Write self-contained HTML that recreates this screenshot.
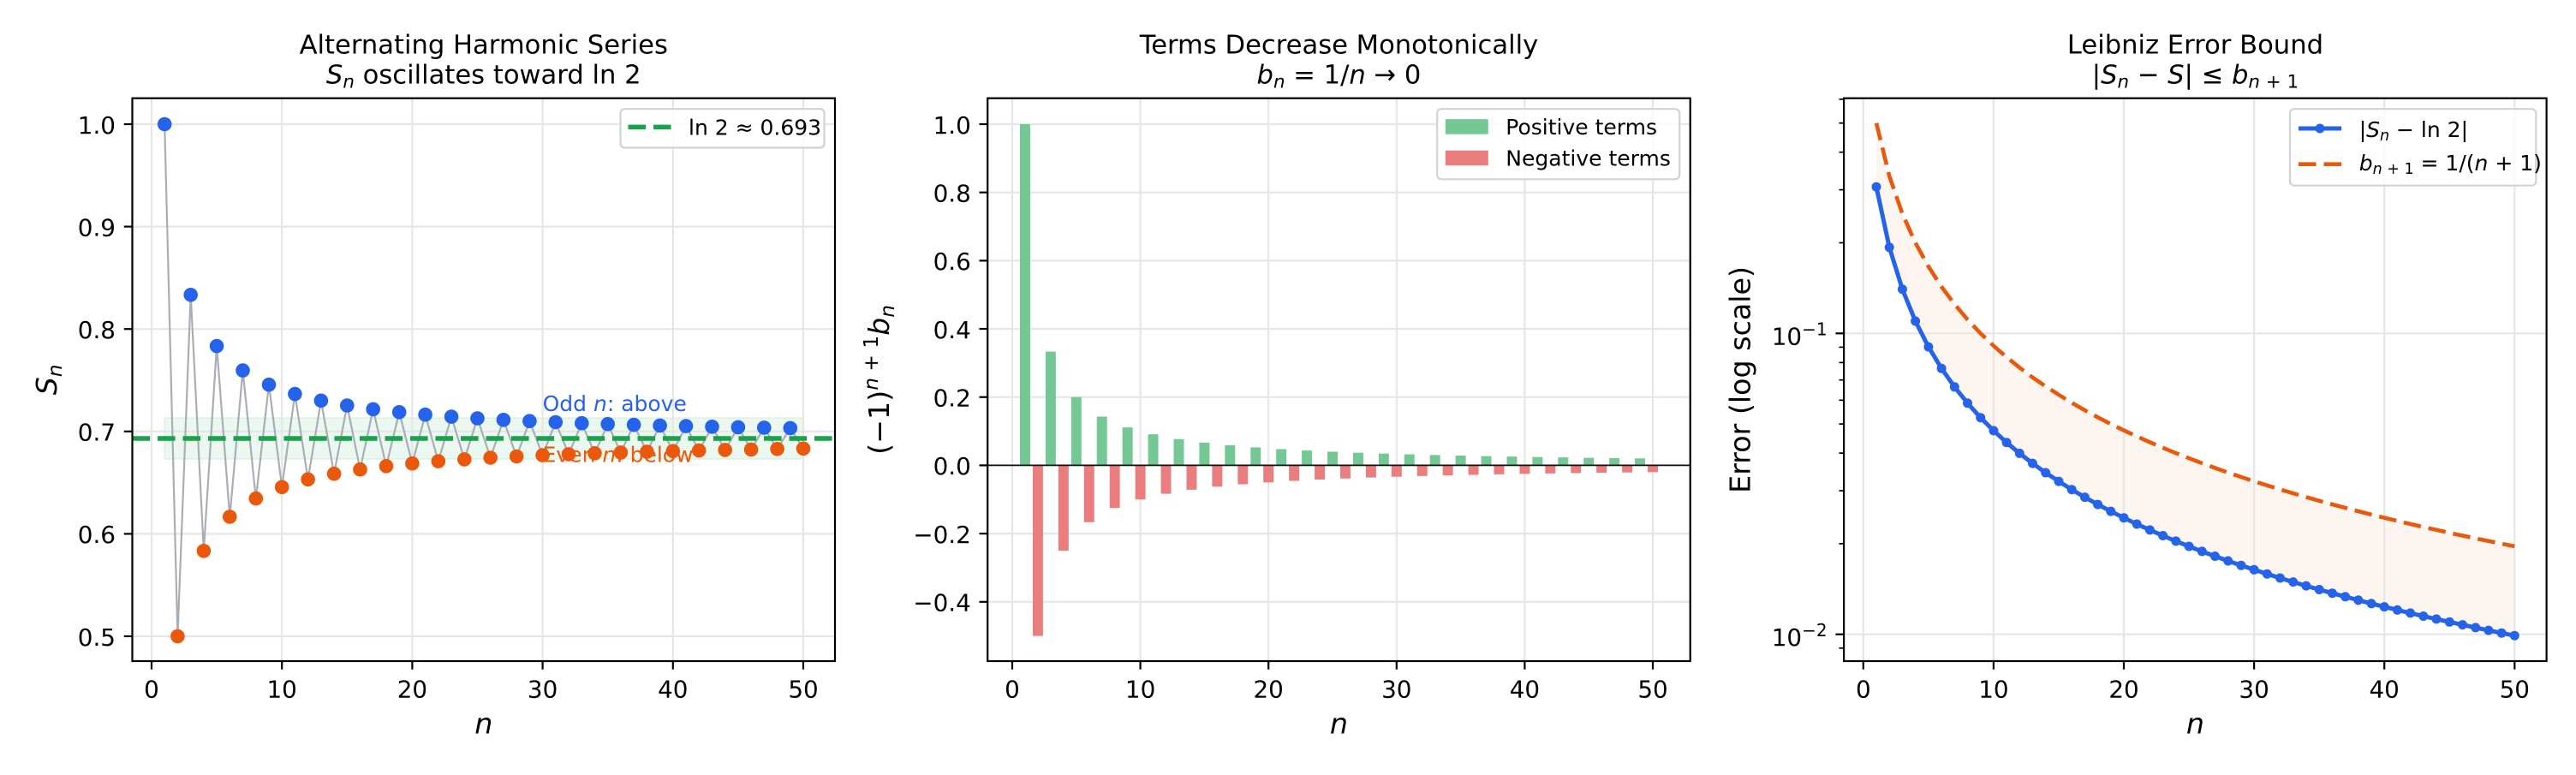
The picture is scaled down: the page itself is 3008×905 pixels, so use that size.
<!DOCTYPE html>
<html>
<head>
<meta charset="utf-8">
<style>
html,body{margin:0;padding:0;background:#fff;}
body{width:3008px;height:905px;overflow:hidden;}
svg{display:block;}
text{font-family:"DejaVu Sans","Liberation Sans",sans-serif;fill:#000;}
.tk{font-size:27.8px;}
.ttl{font-size:30.6px;}
.lab{font-size:33.3px;}
.lg{font-size:25px;}
.it{font-style:italic;}
.grid line{stroke:#e6e6e6;stroke-width:2.2;}
.ticks line{stroke:#000;stroke-width:2.2;}
.minor line{stroke:#000;stroke-width:1.7;}
</style>
</head>
<body>
<svg width="3008" height="905" viewBox="0 0 3008 905" xmlns="http://www.w3.org/2000/svg">
<defs>
  <marker id="mb" markerWidth="20" markerHeight="20" refX="10" refY="10" markerUnits="userSpaceOnUse"><circle cx="10" cy="10" r="8.3" fill="#2563eb"/></marker>
  <marker id="mo" markerWidth="20" markerHeight="20" refX="10" refY="10" markerUnits="userSpaceOnUse"><circle cx="10" cy="10" r="8.3" fill="#ea580c"/></marker>
  <marker id="ms" markerWidth="14" markerHeight="14" refX="7" refY="7" markerUnits="userSpaceOnUse"><circle cx="7" cy="7" r="5.5" fill="#2563eb"/></marker>
</defs>
<rect x="0" y="0" width="3008" height="905" fill="#fff"/>

<!-- ================= PANEL 1 ================= -->
<text class="ttl" x="564.75" y="62.7" text-anchor="middle">Alternating Harmonic Series</text>
<text class="ttl" x="564.75" y="97.5" text-anchor="middle"><tspan class="it">S</tspan><tspan class="it" font-size="21.4" dy="5">n</tspan><tspan dy="-5"> oscillates toward ln 2</tspan></text>

<polygon points="192.2,488.1 938,488.1 938,535.9 192.2,535.9" fill="#ebf8f0" stroke="#d9f2e2" stroke-width="1.5"/>
<g class="grid">
  <line x1="177" y1="114.7" x2="177" y2="772"/>
  <line x1="329.2" y1="114.7" x2="329.2" y2="772"/>
  <line x1="481.4" y1="114.7" x2="481.4" y2="772"/>
  <line x1="633.6" y1="114.7" x2="633.6" y2="772"/>
  <line x1="785.8" y1="114.7" x2="785.8" y2="772"/>
  <line x1="938" y1="114.7" x2="938" y2="772"/>
  <line x1="154.5" y1="145" x2="975" y2="145"/>
  <line x1="154.5" y1="264.6" x2="975" y2="264.6"/>
  <line x1="154.5" y1="384.2" x2="975" y2="384.2"/>
  <line x1="154.5" y1="503.8" x2="975" y2="503.8"/>
  <line x1="154.5" y1="623.4" x2="975" y2="623.4"/>
  <line x1="154.5" y1="743" x2="975" y2="743"/>
</g>
<polyline fill="none" stroke="#a9aeb6" stroke-width="2.2" points="192.2,145 207.4,743 222.7,344.3 237.9,643.3 253.1,404.1 268.3,603.5 283.5,432.6 298.8,582.1 314.0,449.2 329.2,568.8 344.4,460.1 359.6,559.8 374.9,467.8 390.1,553.2 405.3,473.5 420.5,548.2 435.7,477.9 451.0,544.3 466.2,481.3 481.4,541.2 496.6,484.2 511.8,538.6 527.1,486.6 542.3,536.4 557.5,488.5 572.7,534.5 587.9,490.3 603.2,533.0 618.4,491.7 633.6,531.6 648.8,493.0 664.0,530.4 679.3,494.2 694.5,529.3 709.7,495.2 724.9,528.4 740.1,496.1 755.4,527.5 770.6,496.9 785.8,526.8 801.0,497.6 816.2,526.1 831.5,498.3 846.7,525.4 861.9,498.9 877.1,524.9 892.3,499.4 907.6,524.3 922.8,499.9 938.0,523.8"/>
<line x1="154.5" y1="512" x2="975" y2="512" stroke="#16a34a" stroke-width="5.56" stroke-dasharray="20.6 8.9"/>
<polyline fill="none" stroke="none" marker-start="url(#mb)" marker-mid="url(#mb)" marker-end="url(#mb)" points="192.2,145 222.7,344.3 253.1,404.1 283.5,432.6 314.0,449.2 344.4,460.1 374.9,467.8 405.3,473.5 435.7,477.9 466.2,481.3 496.6,484.2 527.1,486.6 557.5,488.5 587.9,490.3 618.4,491.7 648.8,493.0 679.3,494.2 709.7,495.2 740.1,496.1 770.6,496.9 801.0,497.6 831.5,498.3 861.9,498.9 892.3,499.4 922.8,499.9"/>
<polyline fill="none" stroke="none" marker-start="url(#mo)" marker-mid="url(#mo)" marker-end="url(#mo)" points="207.4,743 237.9,643.3 268.3,603.5 298.8,582.1 329.2,568.8 359.6,559.8 390.1,553.2 420.5,548.2 451.0,544.3 481.4,541.2 511.8,538.6 542.3,536.4 572.7,534.5 603.2,533.0 633.6,531.6 664.0,530.4 694.5,529.3 724.9,528.4 755.4,527.5 785.8,526.8 816.2,526.1 846.7,525.4 877.1,524.9 907.6,524.3 938.0,523.8"/>
<text x="633.6" y="479.9" font-size="25" style="fill:#2563eb">Odd <tspan class="it">n</tspan>: above</text>
<text x="633.6" y="539.7" font-size="25" style="fill:#ea580c">Even <tspan class="it">n</tspan>: below</text>

<rect x="154.5" y="114.7" width="820.5" height="657.3" fill="none" stroke="#000" stroke-width="2.2"/>
<g class="ticks">
  <line x1="144.8" y1="145" x2="154.5" y2="145"/>
  <line x1="144.8" y1="264.6" x2="154.5" y2="264.6"/>
  <line x1="144.8" y1="384.2" x2="154.5" y2="384.2"/>
  <line x1="144.8" y1="503.8" x2="154.5" y2="503.8"/>
  <line x1="144.8" y1="623.4" x2="154.5" y2="623.4"/>
  <line x1="144.8" y1="743" x2="154.5" y2="743"/>
  <line x1="177" y1="772" x2="177" y2="781.7"/>
  <line x1="329.2" y1="772" x2="329.2" y2="781.7"/>
  <line x1="481.4" y1="772" x2="481.4" y2="781.7"/>
  <line x1="633.6" y1="772" x2="633.6" y2="781.7"/>
  <line x1="785.8" y1="772" x2="785.8" y2="781.7"/>
  <line x1="938" y1="772" x2="938" y2="781.7"/>
</g>
<g class="tk" text-anchor="end">
  <text x="135" y="155.8">1.0</text>
  <text x="135" y="275.4">0.9</text>
  <text x="135" y="395">0.8</text>
  <text x="135" y="514.6">0.7</text>
  <text x="135" y="634.2">0.6</text>
  <text x="135" y="753.8">0.5</text>
</g>
<g class="tk" text-anchor="middle">
  <text x="177" y="814.3">0</text>
  <text x="329.2" y="814.3">10</text>
  <text x="481.4" y="814.3">20</text>
  <text x="633.6" y="814.3">30</text>
  <text x="785.8" y="814.3">40</text>
  <text x="938" y="814.3">50</text>
</g>
<text class="lab it" x="564.75" y="856.7" text-anchor="middle">n</text>
<text class="lab" transform="translate(66,443.4) rotate(-90)" text-anchor="middle"><tspan class="it">S</tspan><tspan class="it" font-size="23.3" dy="6">n</tspan></text>

<rect x="724.5" y="127.2" width="238" height="45.3" rx="5" fill="#fff" fill-opacity="0.8" stroke="#d2d2d2" stroke-width="2.2"/>
<line x1="733.5" y1="148.4" x2="783.5" y2="148.4" stroke="#16a34a" stroke-width="5.56" stroke-dasharray="20.6 8.9"/>
<text class="lg" x="804" y="157.5">ln 2 ≈ 0.693</text>

<!-- ================= PANEL 2 ================= -->
<text class="ttl" x="1563.45" y="62.7" text-anchor="middle">Terms Decrease Monotonically</text>
<text class="ttl" x="1563.45" y="97.5" text-anchor="middle"><tspan class="it">b</tspan><tspan class="it" font-size="21.4" dy="5">n</tspan><tspan dy="-5"> = 1/</tspan><tspan class="it">n</tspan><tspan> → 0</tspan></text>

<g class="grid">
  <line x1="1182" y1="114.7" x2="1182" y2="772"/>
  <line x1="1331.6" y1="114.7" x2="1331.6" y2="772"/>
  <line x1="1481.2" y1="114.7" x2="1481.2" y2="772"/>
  <line x1="1630.8" y1="114.7" x2="1630.8" y2="772"/>
  <line x1="1780.4" y1="114.7" x2="1780.4" y2="772"/>
  <line x1="1930" y1="114.7" x2="1930" y2="772"/>
  <line x1="1153.2" y1="145" x2="1973.7" y2="145"/>
  <line x1="1153.2" y1="224.7" x2="1973.7" y2="224.7"/>
  <line x1="1153.2" y1="304.4" x2="1973.7" y2="304.4"/>
  <line x1="1153.2" y1="384" x2="1973.7" y2="384"/>
  <line x1="1153.2" y1="463.7" x2="1973.7" y2="463.7"/>
  <line x1="1153.2" y1="543.4" x2="1973.7" y2="543.4"/>
  <line x1="1153.2" y1="623.1" x2="1973.7" y2="623.1"/>
  <line x1="1153.2" y1="702.8" x2="1973.7" y2="702.8"/>
</g>
<g fill="#74c893">
  <rect x="1190.98" y="145" width="11.97" height="398.4"/>
  <rect x="1220.90" y="410.6" width="11.97" height="132.8"/>
  <rect x="1250.82" y="463.72" width="11.97" height="79.68"/>
  <rect x="1280.74" y="486.49" width="11.97" height="56.91"/>
  <rect x="1310.66" y="499.13" width="11.97" height="44.27"/>
  <rect x="1340.58" y="507.18" width="11.97" height="36.22"/>
  <rect x="1370.50" y="512.75" width="11.97" height="30.65"/>
  <rect x="1400.42" y="516.84" width="11.97" height="26.56"/>
  <rect x="1430.34" y="519.96" width="11.97" height="23.44"/>
  <rect x="1460.26" y="522.43" width="11.97" height="20.97"/>
  <rect x="1490.18" y="524.43" width="11.97" height="18.97"/>
  <rect x="1520.10" y="526.08" width="11.97" height="17.32"/>
  <rect x="1550.02" y="527.46" width="11.97" height="15.94"/>
  <rect x="1579.94" y="528.64" width="11.97" height="14.76"/>
  <rect x="1609.86" y="529.66" width="11.97" height="13.74"/>
  <rect x="1639.78" y="530.55" width="11.97" height="12.85"/>
  <rect x="1669.70" y="531.33" width="11.97" height="12.07"/>
  <rect x="1699.62" y="532.02" width="11.97" height="11.38"/>
  <rect x="1729.54" y="532.63" width="11.97" height="10.77"/>
  <rect x="1759.46" y="533.18" width="11.97" height="10.22"/>
  <rect x="1789.38" y="533.68" width="11.97" height="9.72"/>
  <rect x="1819.30" y="534.13" width="11.97" height="9.27"/>
  <rect x="1849.22" y="534.55" width="11.97" height="8.85"/>
  <rect x="1879.14" y="534.92" width="11.97" height="8.48"/>
  <rect x="1909.06" y="535.27" width="11.97" height="8.13"/>
</g>
<g fill="#ea7e7e">
  <rect x="1205.94" y="543.4" width="11.97" height="199.2"/>
  <rect x="1235.86" y="543.4" width="11.97" height="99.6"/>
  <rect x="1265.78" y="543.4" width="11.97" height="66.4"/>
  <rect x="1295.70" y="543.4" width="11.97" height="49.8"/>
  <rect x="1325.62" y="543.4" width="11.97" height="39.84"/>
  <rect x="1355.54" y="543.4" width="11.97" height="33.2"/>
  <rect x="1385.46" y="543.4" width="11.97" height="28.46"/>
  <rect x="1415.38" y="543.4" width="11.97" height="24.9"/>
  <rect x="1445.30" y="543.4" width="11.97" height="22.13"/>
  <rect x="1475.22" y="543.4" width="11.97" height="19.92"/>
  <rect x="1505.14" y="543.4" width="11.97" height="18.11"/>
  <rect x="1535.06" y="543.4" width="11.97" height="16.6"/>
  <rect x="1564.98" y="543.4" width="11.97" height="15.32"/>
  <rect x="1594.90" y="543.4" width="11.97" height="14.23"/>
  <rect x="1624.82" y="543.4" width="11.97" height="13.28"/>
  <rect x="1654.74" y="543.4" width="11.97" height="12.45"/>
  <rect x="1684.66" y="543.4" width="11.97" height="11.72"/>
  <rect x="1714.58" y="543.4" width="11.97" height="11.07"/>
  <rect x="1744.50" y="543.4" width="11.97" height="10.48"/>
  <rect x="1774.42" y="543.4" width="11.97" height="9.96"/>
  <rect x="1804.34" y="543.4" width="11.97" height="9.49"/>
  <rect x="1834.26" y="543.4" width="11.97" height="9.05"/>
  <rect x="1864.18" y="543.4" width="11.97" height="8.66"/>
  <rect x="1894.10" y="543.4" width="11.97" height="8.3"/>
  <rect x="1924.02" y="543.4" width="11.97" height="7.97"/>
</g>
<line x1="1153.2" y1="543.4" x2="1973.7" y2="543.4" stroke="#111" stroke-width="1.8"/>
<rect x="1153.2" y="114.7" width="820.5" height="657.3" fill="none" stroke="#000" stroke-width="2.2"/>
<g class="ticks">
  <line x1="1143.5" y1="145" x2="1153.2" y2="145"/>
  <line x1="1143.5" y1="224.7" x2="1153.2" y2="224.7"/>
  <line x1="1143.5" y1="304.4" x2="1153.2" y2="304.4"/>
  <line x1="1143.5" y1="384" x2="1153.2" y2="384"/>
  <line x1="1143.5" y1="463.7" x2="1153.2" y2="463.7"/>
  <line x1="1143.5" y1="543.4" x2="1153.2" y2="543.4"/>
  <line x1="1143.5" y1="623.1" x2="1153.2" y2="623.1"/>
  <line x1="1143.5" y1="702.8" x2="1153.2" y2="702.8"/>
  <line x1="1182" y1="772" x2="1182" y2="781.7"/>
  <line x1="1331.6" y1="772" x2="1331.6" y2="781.7"/>
  <line x1="1481.2" y1="772" x2="1481.2" y2="781.7"/>
  <line x1="1630.8" y1="772" x2="1630.8" y2="781.7"/>
  <line x1="1780.4" y1="772" x2="1780.4" y2="781.7"/>
  <line x1="1930" y1="772" x2="1930" y2="781.7"/>
</g>
<g class="tk" text-anchor="end">
  <text x="1133.8" y="155.8">1.0</text>
  <text x="1133.8" y="235.5">0.8</text>
  <text x="1133.8" y="315.2">0.6</text>
  <text x="1133.8" y="394.8">0.4</text>
  <text x="1133.8" y="474.5">0.2</text>
  <text x="1133.8" y="554.2">0.0</text>
  <text x="1133.8" y="633.9">−0.2</text>
  <text x="1133.8" y="713.6">−0.4</text>
</g>
<g class="tk" text-anchor="middle">
  <text x="1182" y="814.3">0</text>
  <text x="1331.6" y="814.3">10</text>
  <text x="1481.2" y="814.3">20</text>
  <text x="1630.8" y="814.3">30</text>
  <text x="1780.4" y="814.3">40</text>
  <text x="1930" y="814.3">50</text>
</g>
<text class="lab it" x="1563.45" y="856.7" text-anchor="middle">n</text>
<text class="lab" transform="translate(1038,443.4) rotate(-90)" text-anchor="middle">(−1)<tspan class="it" font-size="23.3" dy="-13">n</tspan><tspan font-size="23.3"> + 1</tspan><tspan class="it" dy="13">b</tspan><tspan class="it" font-size="23.3" dy="6">n</tspan></text>

<rect x="1678.2" y="127.2" width="283" height="82.1" rx="5" fill="#fff" fill-opacity="0.8" stroke="#d2d2d2" stroke-width="2.2"/>
<rect x="1687.8" y="139.2" width="50" height="17.5" fill="#74c893"/>
<rect x="1687.8" y="175.7" width="50" height="17.5" fill="#ea7e7e"/>
<text class="lg" x="1758.3" y="157">Positive terms</text>
<text class="lg" x="1758.3" y="193.5">Negative terms</text>

<!-- ================= PANEL 3 ================= -->
<text class="ttl" x="2563.45" y="62.7" text-anchor="middle">Leibniz Error Bound</text>
<text class="ttl" x="2563.45" y="97.5" text-anchor="middle">|<tspan class="it">S</tspan><tspan class="it" font-size="21.4" dy="5">n</tspan><tspan dy="-5"> − </tspan><tspan class="it">S</tspan><tspan>| ≤ </tspan><tspan class="it">b</tspan><tspan font-size="21.4" dy="5"><tspan class="it">n</tspan> + 1</tspan></text>

<polygon fill="#fdf5ef" points="2191.0,143.7 2206.2,205.6 2221.4,249.5 2236.6,283.5 2251.9,311.3 2267.1,334.9 2282.3,355.2 2297.5,373.2 2312.7,389.3 2327.9,403.8 2343.1,417.1 2358.3,429.3 2373.5,440.7 2388.7,451.2 2404.0,461.0 2419.2,470.3 2434.4,479.0 2449.6,487.3 2464.8,495.1 2480.0,502.5 2495.2,509.6 2510.4,516.4 2525.6,522.9 2540.8,529.1 2556.1,535.1 2571.3,540.9 2586.5,546.4 2601.7,551.8 2616.9,557.0 2632.1,562.0 2647.3,566.8 2662.5,571.5 2677.7,576.1 2692.9,580.5 2708.2,584.8 2723.4,589.0 2738.6,593.0 2753.8,597.0 2769.0,600.9 2784.2,604.6 2799.4,608.3 2814.6,611.9 2829.8,615.4 2845.0,618.8 2860.3,622.2 2875.5,625.5 2890.7,628.7 2905.9,631.8 2921.1,634.9 2936.3,637.9 2936.3,742.2 2921.1,739.2 2905.9,736.1 2890.7,732.9 2875.5,729.6 2860.3,726.3 2845.0,722.9 2829.8,719.5 2814.6,715.9 2799.4,712.3 2784.2,708.6 2769.0,704.8 2753.8,700.8 2738.6,696.8 2723.4,692.7 2708.2,688.5 2692.9,684.1 2677.7,679.6 2662.5,675.0 2647.3,670.2 2632.1,665.3 2616.9,660.2 2601.7,655.0 2586.5,649.5 2571.3,643.9 2556.1,638.0 2540.8,631.9 2525.6,625.5 2510.4,618.9 2495.2,612.0 2480.0,604.7 2464.8,597.1 2449.6,589.1 2434.4,580.6 2419.2,571.7 2404.0,562.1 2388.7,552.0 2373.5,541.1 2358.3,529.4 2343.1,516.7 2327.9,502.9 2312.7,487.7 2297.5,470.8 2282.3,451.8 2267.1,430.2 2251.9,405.1 2236.6,375.0 2221.4,337.7 2206.2,288.8 2191.0,218.2"/>
<g class="grid">
  <line x1="2175.8" y1="114.7" x2="2175.8" y2="772"/>
  <line x1="2327.9" y1="114.7" x2="2327.9" y2="772"/>
  <line x1="2480" y1="114.7" x2="2480" y2="772"/>
  <line x1="2632.1" y1="114.7" x2="2632.1" y2="772"/>
  <line x1="2784.2" y1="114.7" x2="2784.2" y2="772"/>
  <line x1="2936.3" y1="114.7" x2="2936.3" y2="772"/>
  <line x1="2153.1" y1="389.3" x2="2973.6" y2="389.3"/>
  <line x1="2153.1" y1="740.7" x2="2973.6" y2="740.7"/>
</g>
<polyline fill="none" stroke="#2563eb" stroke-width="5" stroke-linejoin="round" marker-start="url(#ms)" marker-mid="url(#ms)" marker-end="url(#ms)" points="2191.0,218.2 2206.2,288.8 2221.4,337.7 2236.6,375.0 2251.9,405.1 2267.1,430.2 2282.3,451.8 2297.5,470.8 2312.7,487.7 2327.9,502.9 2343.1,516.7 2358.3,529.4 2373.5,541.1 2388.7,552.0 2404.0,562.1 2419.2,571.7 2434.4,580.6 2449.6,589.1 2464.8,597.1 2480.0,604.7 2495.2,612.0 2510.4,618.9 2525.6,625.5 2540.8,631.9 2556.1,638.0 2571.3,643.9 2586.5,649.5 2601.7,655.0 2616.9,660.2 2632.1,665.3 2647.3,670.2 2662.5,675.0 2677.7,679.6 2692.9,684.1 2708.2,688.5 2723.4,692.7 2738.6,696.8 2753.8,700.8 2769.0,704.8 2784.2,708.6 2799.4,712.3 2814.6,715.9 2829.8,719.5 2845.0,722.9 2860.3,726.3 2875.5,729.6 2890.7,732.9 2905.9,736.1 2921.1,739.2 2936.3,742.2"/>
<polyline fill="none" stroke="#ea580c" stroke-width="4.6" stroke-dasharray="20.6 8.9" points="2191.0,143.7 2206.2,205.6 2221.4,249.5 2236.6,283.5 2251.9,311.3 2267.1,334.9 2282.3,355.2 2297.5,373.2 2312.7,389.3 2327.9,403.8 2343.1,417.1 2358.3,429.3 2373.5,440.7 2388.7,451.2 2404.0,461.0 2419.2,470.3 2434.4,479.0 2449.6,487.3 2464.8,495.1 2480.0,502.5 2495.2,509.6 2510.4,516.4 2525.6,522.9 2540.8,529.1 2556.1,535.1 2571.3,540.9 2586.5,546.4 2601.7,551.8 2616.9,557.0 2632.1,562.0 2647.3,566.8 2662.5,571.5 2677.7,576.1 2692.9,580.5 2708.2,584.8 2723.4,589.0 2738.6,593.0 2753.8,597.0 2769.0,600.9 2784.2,604.6 2799.4,608.3 2814.6,611.9 2829.8,615.4 2845.0,618.8 2860.3,622.2 2875.5,625.5 2890.7,628.7 2905.9,631.8 2921.1,634.9 2936.3,637.9"/>
<rect x="2153.1" y="114.7" width="820.5" height="657.3" fill="none" stroke="#000" stroke-width="2.2"/>
<g class="ticks">
  <line x1="2143.4" y1="389.3" x2="2153.1" y2="389.3"/>
  <line x1="2143.4" y1="740.7" x2="2153.1" y2="740.7"/>
  <line x1="2175.8" y1="772" x2="2175.8" y2="781.7"/>
  <line x1="2327.9" y1="772" x2="2327.9" y2="781.7"/>
  <line x1="2480" y1="772" x2="2480" y2="781.7"/>
  <line x1="2632.1" y1="772" x2="2632.1" y2="781.7"/>
  <line x1="2784.2" y1="772" x2="2784.2" y2="781.7"/>
  <line x1="2936.3" y1="772" x2="2936.3" y2="781.7"/>
</g>
<g class="minor">
  <line x1="2147.5" y1="115.9" x2="2153.1" y2="115.9"/>
  <line x1="2147.5" y1="143.7" x2="2153.1" y2="143.7"/>
  <line x1="2147.5" y1="177.7" x2="2153.1" y2="177.7"/>
  <line x1="2147.5" y1="221.6" x2="2153.1" y2="221.6"/>
  <line x1="2147.5" y1="283.5" x2="2153.1" y2="283.5"/>
  <line x1="2147.5" y1="405.4" x2="2153.1" y2="405.4"/>
  <line x1="2147.5" y1="423.4" x2="2153.1" y2="423.4"/>
  <line x1="2147.5" y1="443.7" x2="2153.1" y2="443.7"/>
  <line x1="2147.5" y1="467.3" x2="2153.1" y2="467.3"/>
  <line x1="2147.5" y1="495.1" x2="2153.1" y2="495.1"/>
  <line x1="2147.5" y1="529.1" x2="2153.1" y2="529.1"/>
  <line x1="2147.5" y1="573.0" x2="2153.1" y2="573.0"/>
  <line x1="2147.5" y1="634.9" x2="2153.1" y2="634.9"/>
  <line x1="2147.5" y1="756.8" x2="2153.1" y2="756.8"/>
</g>
<g class="tk" text-anchor="end">
  <text x="2133.6" y="402.7">10<tspan font-size="20" dy="-11">−1</tspan></text>
  <text x="2133.6" y="754.1">10<tspan font-size="20" dy="-11">−2</tspan></text>
</g>
<g class="tk" text-anchor="middle">
  <text x="2175.8" y="814.3">0</text>
  <text x="2327.9" y="814.3">10</text>
  <text x="2480" y="814.3">20</text>
  <text x="2632.1" y="814.3">30</text>
  <text x="2784.2" y="814.3">40</text>
  <text x="2936.3" y="814.3">50</text>
</g>
<text class="lab it" x="2563.45" y="856.7" text-anchor="middle">n</text>
<text class="lab" transform="translate(2043.3,443.4) rotate(-90)" text-anchor="middle">Error (log scale)</text>

<rect x="2674" y="127.2" width="287.3" height="89.5" rx="5" fill="#fff" fill-opacity="0.8" stroke="#d2d2d2" stroke-width="2.2"/>
<line x1="2684" y1="150" x2="2734" y2="150" stroke="#2563eb" stroke-width="5"/>
<circle cx="2709" cy="150" r="5.5" fill="#2563eb"/>
<line x1="2684" y1="191.7" x2="2734" y2="191.7" stroke="#ea580c" stroke-width="4.6" stroke-dasharray="20.6 8.9"/>
<text class="lg" x="2754.7" y="160">|<tspan class="it">S</tspan><tspan class="it" font-size="17.5" dy="4">n</tspan><tspan dy="-4"> − ln 2|</tspan></text>
<text class="lg" x="2754.7" y="199"><tspan class="it">b</tspan><tspan font-size="17.5" dy="4"><tspan class="it">n</tspan> + 1</tspan><tspan dy="-4"> = 1/(</tspan><tspan class="it">n</tspan><tspan> + 1)</tspan></text>
</svg>
</body>
</html>
